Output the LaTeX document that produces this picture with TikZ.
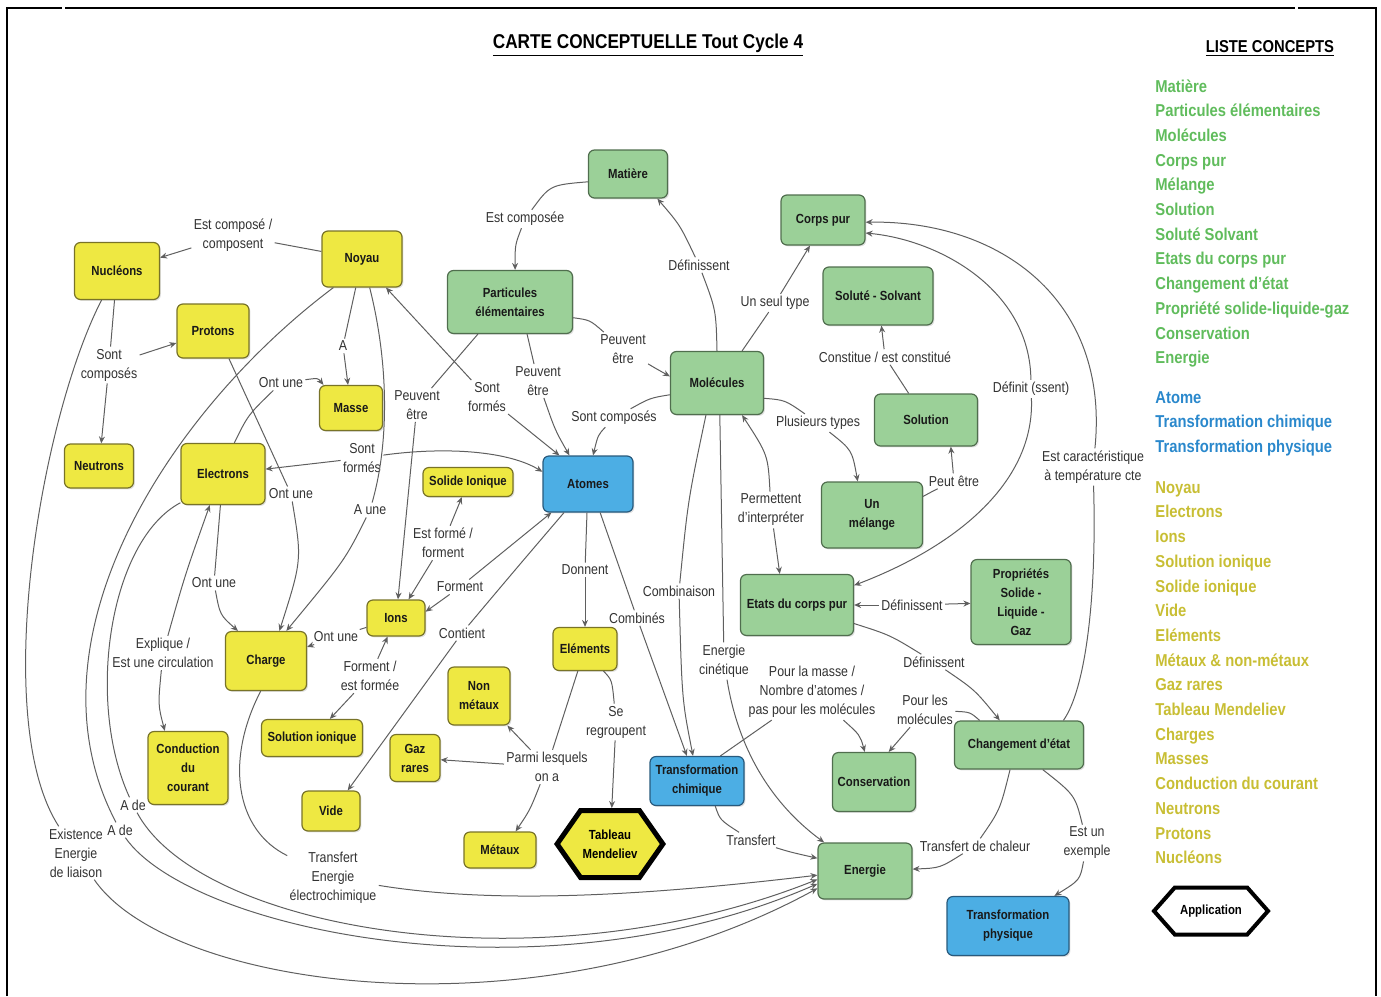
\documentclass[tikz,border=0pt]{standalone}
\usepackage{fontspec}
\setmainfont{Liberation Sans}[FakeStretch=0.86]
\usetikzlibrary{arrows.meta,shapes.symbols,shadows}

\definecolor{nodeyellow}{RGB}{238,232,66}
\definecolor{yellowedge}{RGB}{120,115,40}
\definecolor{nodegreen}{RGB}{155,208,152}
\definecolor{greenedge}{RGB}{80,110,78}
\definecolor{nodeblue}{RGB}{76,174,228}
\definecolor{blueedge}{RGB}{40,90,125}
\definecolor{linkgray}{RGB}{95,95,95}
\definecolor{labeltext}{RGB}{50,50,50}
\definecolor{listgreen}{RGB}{96,188,92}
\definecolor{listblue}{RGB}{42,136,204}
\definecolor{listolive}{RGB}{200,190,52}

\tikzset{
  wh/.style 2 args={minimum width=#1*0.5pt, minimum height=#2*0.5pt},
  concept/.style={draw, rounded corners=3pt, line width=0.6pt, align=center, inner sep=1pt,
    font=\fontsize{6.6}{9.5}\selectfont\bfseries, text=black!90,
    drop shadow={shadow xshift=0.7pt, shadow yshift=-0.7pt, fill=black, opacity=0.12}},
  yel/.style={concept, fill=nodeyellow, draw=yellowedge},
  grn/.style={concept, fill=nodegreen, draw=greenedge},
  blu/.style={concept, fill=nodeblue, draw=blueedge},
  hexa/.style={shape=signal, signal to=east and west, draw=black, align=center, inner sep=1pt,
    font=\fontsize{6.6}{9.5}\selectfont\bfseries},
  lbl/.style={align=center, inner sep=1pt, font=\fontsize{7.2}{9.5}\selectfont, text=labeltext},
  link/.style={draw=linkgray, line width=0.5pt},
  arr/.style={link, -{Stealth[length=3.5pt, width=3pt]}},
}

\begin{document}
\begin{tikzpicture}[x=0.5pt, y=-0.5pt]
\useasboundingbox (0,0) rectangle (1381,996);
% frame
\draw[line width=1pt] (7,996) -- (7,8) -- (62,8);
\draw[line width=1pt] (65,8) -- (1295,8);
\draw[line width=1pt] (1298,8) -- (1376,8) -- (1376,996);

% titles
\node[font=\fontsize{10}{12}\selectfont\bfseries] (title) at (648,45) {\underline{CARTE CONCEPTUELLE Tout Cycle 4}};
\node[font=\fontsize{8.6}{10}\selectfont\bfseries] (liste) at (1270,49) {\underline{LISTE CONCEPTS}};

% yellow concepts
\node[yel, wh={85}{57}] (nucleons) at (117,271) {Nucléons};
\node[yel, wh={80}{56}] (noyau) at (362,259) {Noyau};
\node[yel, wh={72}{54}] (protons) at (213,331) {Protons};
\node[yel, wh={63}{45}] (masse) at (351,408) {Masse};
\node[yel, wh={69}{44}] (neutrons) at (99,466) {Neutrons};
\node[yel, wh={84}{61}] (electrons) at (223,474) {Electrons};
\node[yel, wh={90}{29}] (solideion) at (468,482) {Solide Ionique};
\node[yel, wh={58}{36}] (ions) at (396,618) {Ions};
\node[yel, wh={81}{59}] (charge) at (266,661) {Charge};
\node[yel, wh={62}{58}] (nonmetaux) at (479,696) {Non\\métaux};
\node[yel, wh={64}{43}] (elements) at (585,649) {Eléments};
\node[yel, wh={101}{37}] (solionique) at (312,738) {Solution ionique};
\node[yel, wh={80}{73}] (conduction) at (188,768) {Conduction\\du\\courant};
\node[yel, wh={50}{47}] (gazrares) at (415,758) {Gaz\\rares};
\node[yel, wh={58}{40}] (vide) at (331,811) {Vide};
\node[yel, wh={72}{36}] (metaux) at (500,850) {Métaux};
\node[hexa, fill=nodeyellow, line width=2.5pt, signal pointer angle=110, wh={86}{67}] (tableau) at (610,844) {Tableau\\Mendeliev};

% green concepts
\node[grn, wh={79}{48}] (matiere) at (628,174) {Matière};
\node[grn, wh={84}{50}] (corpspur) at (823,220) {Corps pur};
\node[grn, wh={125}{63}] (particules) at (510,302) {Particules\\élémentaires};
\node[grn, wh={110}{58}] (solute) at (878,296) {Soluté - Solvant};
\node[grn, wh={93}{63}] (molecules) at (717,383) {Molécules};
\node[grn, wh={103}{52}] (solution) at (926,420) {Solution};
\node[grn, wh={101}{66}] (melange) at (872,515) {Un\\mélange};
\node[grn, wh={113}{61}] (etats) at (797,605) {Etats du corps pur};
\node[grn, wh={100}{85}] (proprietes) at (1021,602) {Propriétés\\Solide -\\Liquide -\\Gaz};
\node[grn, wh={83}{59}] (conservation) at (874,782) {Conservation};
\node[grn, wh={129}{48}] (changement) at (1019,745) {Changement d'état};
\node[grn, wh={94}{56}] (energie) at (865,871) {Energie};

% blue concepts
\node[blu, wh={90}{56}] (atomes) at (588,484) {Atomes};
\node[blu, wh={94}{49}] (tchimique) at (697,781) {Transformation\\chimique};
\node[blu, wh={122}{59}] (tphysique) at (1008,926) {Transformation\\physique};

% link labels
\node[lbl] (l_compose) at (233,235) {Est composé /\\composent};
\node[lbl] (l_sontcomp) at (109,365) {Sont\\composés};
\node[lbl] (l_A) at (343,346) {A};
\node[lbl] (l_ontune1) at (281,383) {Ont une};
\node[lbl] (l_sontformes1) at (362,458) {Sont\\formés};
\node[lbl] (l_ontune2) at (291,494) {Ont une};
\node[lbl] (l_aune) at (370,510) {A une};
\node[lbl] (l_ontune3) at (214,583) {Ont une};
\node[lbl] (l_ontune4) at (336,637) {Ont une};
\node[lbl] (l_explique) at (163,653) {Explique /\\Est une circulation};
\node[lbl] (l_ade1) at (133,805) {A de};
\node[lbl] (l_ade2) at (120,830) {A de};
\node[lbl] (l_exist) at (76,853) {Existence\\Energie\\de liaison};
\node[lbl] (l_transfert1) at (333,878) {Transfert\\Energie\\électrochimique};
\node[lbl] (l_forment2) at (370,676) {Forment /\\est formée};
\node[lbl] (l_peuvent1) at (417,405) {Peuvent\\être};
\node[lbl] (l_sontformes2) at (487,397) {Sont\\formés};
\node[lbl] (l_peuvent2) at (538,381) {Peuvent\\être};
\node[lbl] (l_peuvent3) at (623,349) {Peuvent\\être};
\node[lbl] (l_estcomposee) at (525,219) {Est composée};
\node[lbl] (l_definissent1) at (699,265) {Définissent};
\node[lbl] (l_unseul) at (775,303) {Un seul type};
\node[lbl] (l_sontcomposes) at (614,418) {Sont composés};
\node[lbl] (l_plusieurs) at (818,423) {Plusieurs types};
\node[lbl] (l_constitue) at (885,357) {Constitue / est constitué};
\node[lbl] (l_peutetre) at (954,481) {Peut être};
\node[lbl] (l_definit) at (1031,389) {Définit (ssent)};
\node[lbl] (l_caract) at (1093,467) {Est caractéristique\\à température cte};
\node[lbl] (l_permettent) at (771,510) {Permettent\\d'interpréter};
\node[lbl] (l_definissent2) at (912,605) {Définissent};
\node[lbl] (l_definissent3) at (934,662) {Définissent};
\node[lbl] (l_pourmol) at (925,710) {Pour les\\molécules};
\node[lbl] (l_pourmasse) at (812,692) {Pour la masse /\\Nombre d'atomes /\\pas pour les molécules};
\node[lbl] (l_estforme) at (443,543) {Est formé /\\forment};
\node[lbl] (l_forment1) at (460,587) {Forment};
\node[lbl] (l_contient) at (462,633) {Contient};
\node[lbl] (l_donnent) at (585,570) {Donnent};
\node[lbl] (l_combinaison) at (679,591) {Combinaison};
\node[lbl] (l_combines) at (637,618) {Combinés};
\node[lbl] (l_energiecin) at (724,661) {Energie\\cinétique};
\node[lbl] (l_seregroupent) at (616,722) {Se\\regroupent};
\node[lbl] (l_parmi) at (547,767) {Parmi lesquels\\on a};
\node[lbl] (l_transfert2) at (751,840) {Transfert};
\node[lbl] (l_chaleur) at (975,846) {Transfert de chaleur};
\node[lbl] (l_exemple) at (1087,843) {Est un\\exemple};

% nucleus side
\draw[link] (noyau) -- (l_compose);
\draw[arr] (l_compose) -- (nucleons);
\draw[link] (nucleons) -- (l_sontcomp);
\draw[arr] (l_sontcomp) -- (protons);
\draw[arr] (l_sontcomp) -- (neutrons);
\draw[link] (noyau) -- (l_A);
\draw[arr] (l_A) -- (masse);
\draw[link] (electrons.70) .. controls (248,415) .. (l_ontune1);
\draw[arr] (l_ontune1) .. controls (318,378) .. (masse.140);
\draw[arr] (l_sontformes1) -- (electrons);
\draw[arr] (l_sontformes1) .. controls (450,446) and (510,452) .. (atomes.165);
\draw[link] (protons.-60) -- (l_ontune2);
\draw[arr] (l_ontune2) .. controls (302,560) .. (charge.66);
\draw[link] (noyau.-75) .. controls (388,360) and (390,440) .. (l_aune);
\draw[arr] (l_aune) .. controls (345,560) .. (charge.56);
\draw[link] (electrons) -- (l_ontune3);
\draw[arr] (l_ontune3) .. controls (220,615) .. (charge.133);
\draw[link] (ions) -- (l_ontune4);
\draw[arr] (l_ontune4) -- (charge);
\draw[arr] (l_explique) .. controls (185,575) .. (electrons.-113);
\draw[arr] (l_explique) .. controls (158,705) .. (conduction.122);
\draw[arr] (l_forment2) -- (ions);
\draw[arr] (l_forment2) -- (solionique);

% long arcs to Energie
\draw[link] (electrons.-146) .. controls (110,540) and (85,700) .. (l_ade1);
\draw[arr] (l_ade1) .. controls (200,930) and (540,990) .. (energie.190);
\draw[link] (noyau.-135) .. controls (170,410) and (20,640) .. (l_ade2);
\draw[arr] (l_ade2) .. controls (190,930) and (540,1005) .. (energie.195);
\draw[link] (nucleons.-118) .. controls (40,420) and (-10,720) .. (l_exist);
\draw[arr] (l_exist) .. controls (170,990) and (540,1040) .. (energie.200);
\draw[link] (charge.-100) .. controls (225,760) and (235,830) .. (l_transfert1);
\draw[arr] (l_transfert1) .. controls (500,905) and (650,895) .. (energie.185);

% particles
\draw[link] (matiere.191) .. controls (550,185) .. (l_estcomposee);
\draw[arr] (l_estcomposee) .. controls (515,245) .. (particules.81);
\draw[link] (particules.-135) -- (l_peuvent1);
\draw[arr] (l_peuvent1) -- (ions.84);
\draw[arr] (l_sontformes2) -- (noyau.-50);
\draw[arr] (l_sontformes2) -- (atomes.135);
\draw[link] (particules.-62) -- (l_peuvent2);
\draw[arr] (l_peuvent2) .. controls (555,430) .. (atomes.123);
\draw[link] (particules.-14) .. controls (590,320) .. (l_peuvent3);
\draw[arr] (l_peuvent3) .. controls (655,368) .. (molecules.172);

% molecules
\draw[link] (molecules.north) .. controls (716,310) .. (l_definissent1);
\draw[arr] (l_definissent1) .. controls (680,225) .. (matiere.-40);
\draw[link] (molecules.52) -- (l_unseul);
\draw[arr] (l_unseul) -- (corpspur.-117);
\draw[link] (molecules.194) .. controls (650,398) .. (l_sontcomposes);
\draw[arr] (l_sontcomposes) .. controls (598,435) .. (atomes.80);
\draw[link] (molecules.-18) .. controls (785,400) .. (l_plusieurs);
\draw[arr] (l_plusieurs) .. controls (852,450) .. (melange.113);
\draw[link] (solution) -- (l_constitue);
\draw[arr] (l_constitue) -- (solute);
\draw[link] (melange.20) .. controls (935,490) .. (l_peutetre);
\draw[arr] (l_peutetre) -- (solution.-47);
\draw[arr] (l_definit) .. controls (1030,290) and (940,240) .. (corpspur.-17);
\draw[arr] (l_definit) .. controls (1035,480) and (960,545) .. (etats.19);
\draw[arr] (l_caract) .. controls (1110,300) and (1000,220) .. (corpspur.-3);
\draw[link] (l_caract) .. controls (1097,600) and (1085,690) .. (changement.29);
\draw[arr] (l_permettent) .. controls (768,455) .. (molecules.-52);
\draw[arr] (l_permettent) -- (etats.119);
\draw[arr] (l_definissent2) -- (etats);
\draw[arr] (l_definissent2) -- (proprietes);
\draw[link] (etats.-18) .. controls (890,635) .. (l_definissent3);
\draw[arr] (l_definissent3) .. controls (975,690) .. (changement.128);
\draw[link] (changement.148) .. controls (970,712) .. (l_pourmol);
\draw[arr] (l_pourmol) -- (conservation.64);
\draw[link] (tchimique.47) -- (l_pourmasse);
\draw[arr] (l_pourmasse) .. controls (860,735) .. (conservation.107);

% atoms
\draw[link] (atomes) -- (l_donnent);
\draw[arr] (l_donnent) -- (elements);
\draw[link] (atomes.-67) -- (l_combines);
\draw[arr] (l_combines) -- (tchimique.112);
\draw[link] (molecules.-109) .. controls (688,500) .. (l_combinaison);
\draw[arr] (l_combinaison) .. controls (682,700) .. (tchimique.99);
\draw[link] (molecules.-85) -- (l_energiecin);
\draw[arr] (l_energiecin) .. controls (740,760) and (780,810) .. (energie.145);
\draw[link] (tchimique.-54) .. controls (720,820) .. (l_transfert2);
\draw[arr] (l_transfert2) .. controls (790,852) .. (energie.165);
\draw[link] (changement.-110) .. controls (1000,810) .. (l_chaleur);
\draw[arr] (l_chaleur) .. controls (940,868) .. (energie);
\draw[link] (changement.-46) .. controls (1075,795) .. (l_exemple);
\draw[arr] (l_exemple) .. controls (1080,880) .. (tphysique.33);
\draw[link] (elements.-50) .. controls (612,680) .. (l_seregroupent);
\draw[arr] (l_seregroupent) -- (tableau);
\draw[link] (elements.-108) -- (l_parmi);
\draw[arr] (l_parmi) -- (nonmetaux);
\draw[arr] (l_parmi) -- (gazrares);
\draw[arr] (l_parmi) .. controls (530,810) .. (metaux.50);
\draw[arr] (l_estforme) -- (solideion.-112);
\draw[arr] (l_estforme) -- (ions.56);
\draw[arr] (l_forment1) -- (atomes.-142);
\draw[arr] (l_forment1) -- (ions.12);
\draw[link] (atomes.-130) .. controls (515,570) .. (l_contient);
\draw[arr] (l_contient) -- (vide.51);

% concept list
\node[anchor=north west, align=left, inner sep=0pt, text=listgreen, font=\fontsize{8.6}{12.35}\selectfont\bfseries] (lst_green) at (1155,79)
  {Matière\\Particules élémentaires\\Molécules\\Corps pur\\Mélange\\Solution\\Soluté Solvant\\Etats du corps pur\\Changement d'état\\Propriété solide-liquide-gaz\\Conservation\\Energie};
\node[anchor=north west, align=left, inner sep=0pt, text=listblue, font=\fontsize{8.6}{12.35}\selectfont\bfseries] (lst_blue) at (1155,391)
  {Atome\\Transformation chimique\\Transformation physique};
\node[anchor=north west, align=left, inner sep=0pt, text=listolive, font=\fontsize{8.6}{12.35}\selectfont\bfseries] (lst_olive) at (1155,481)
  {Noyau\\Electrons\\Ions\\Solution ionique\\Solide ionique\\Vide\\Eléments\\Métaux \& non-métaux\\Gaz rares\\Tableau Mendeliev\\Charges\\Masses\\Conduction du courant\\Neutrons\\Protons\\Nucléons};
\node[hexa, fill=white, line width=2pt, signal pointer angle=97, wh={114}{47}] (application) at (1211,911) {Application};
\end{tikzpicture}
\end{document}
